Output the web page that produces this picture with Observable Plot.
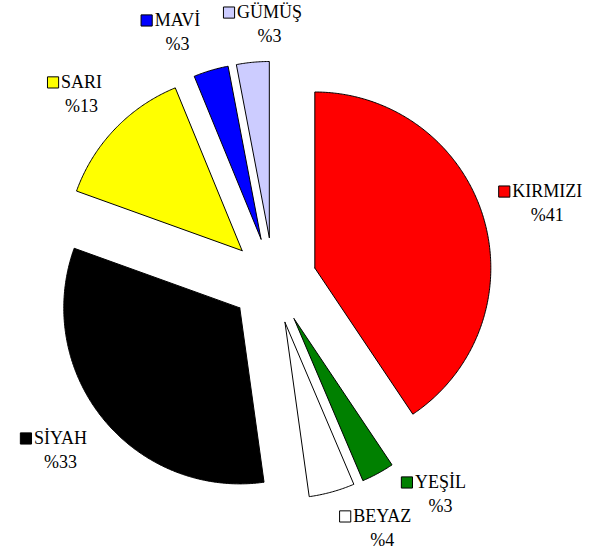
<!DOCTYPE html>
<html><head><meta charset="utf-8">
<script src="https://cdn.jsdelivr.net/npm/d3@7"></script>
<script src="https://cdn.jsdelivr.net/npm/@observablehq/plot@0.6"></script>
<style>
body{margin:0;background:#fff}
</style>
</head><body><div id="chart"></div>
<script>
// ---- data ----
const categories = ["KIRMIZI", "YEŞİL", "BEYAZ", "SİYAH", "SARI", "MAVİ", "GÜMÜŞ"];
const values = [40.6, 3.0, 4.2, 32.7, 13.3, 3.2, 3.0];
const colors = ["#ff0000", "#008000", "#ffffff", "#000000", "#ffff00", "#0000ff", "#ccccff"];

// ---- layout (chart units: 1 = pie radius, y up) ----
const labelX = [1.556, 0.949, 0.618, -1.210, -1.090, -0.545, -0.022];
const labelY = [0.506, -1.147, -1.340, -0.897, 1.126, 1.478, 1.523];
const explode = 0.246;
const W = 591, H = 557, R = 176, CX = 272.9, CY = 280.1;
const FONT = "'Liberation Serif', 'Times New Roman', 'DejaVu Serif', serif", FS = 18;

const pie = d3.pie().sort(null).value(d => d)(values);

const slices = pie.map((p, i) => {
  const mid = (p.startAngle + p.endAngle) / 2;
  const ox = explode * Math.sin(mid), oy = explode * Math.cos(mid);
  const pts = [{x: ox, y: oy}];
  const n = Math.max(2, Math.ceil((p.endAngle - p.startAngle) / (Math.PI / 360)));
  for (let k = 0; k <= n; k++) {
    const a = p.startAngle + (p.endAngle - p.startAngle) * k / n;
    pts.push({x: ox + Math.sin(a), y: oy + Math.cos(a)});
  }
  pts.push({x: ox, y: oy});
  return pts;
});

const ctx = document.createElement("canvas").getContext("2d");
ctx.font = `${FS}px ${FONT}`;

const labels = categories.map((c, i) => {
  const w = ctx.measureText(c).width;
  return {
    name: c,
    pct: "%" + Math.round(values[i]),
    color: colors[i],
    x: labelX[i],
    y: labelY[i],
    sx: labelX[i] - (w / 2 + 8) / R
  };
});

const marks = slices.map((pts, i) =>
  Plot.line(pts, {x: "x", y: "y", fill: colors[i], stroke: "#000", strokeWidth: 1, strokeLinejoin: "miter"})
);
marks.push(
  Plot.text(labels, {x: "x", y: "y", text: "name", fontFamily: FONT, fontSize: FS, fill: "#000"}),
  Plot.text(labels, {x: "x", y: "y", text: "pct", dy: 24, fontFamily: FONT, fontSize: FS, fill: "#000"}),
  Plot.dot(labels, {x: "sx", y: "y", symbol: "square", r: 6.3, fill: "color", stroke: "#000", strokeWidth: 1})
);

const chart = Plot.plot({
  width: W, height: H,
  margin: 0,
  x: {domain: [-CX / R, (W - CX) / R], range: [0, W], axis: null},
  y: {domain: [(CY - H) / R, CY / R], range: [H, 0], axis: null},
  style: {background: "#fff", fontFamily: FONT},
  marks
});
document.getElementById("chart").appendChild(chart);
</script>
</body></html>
